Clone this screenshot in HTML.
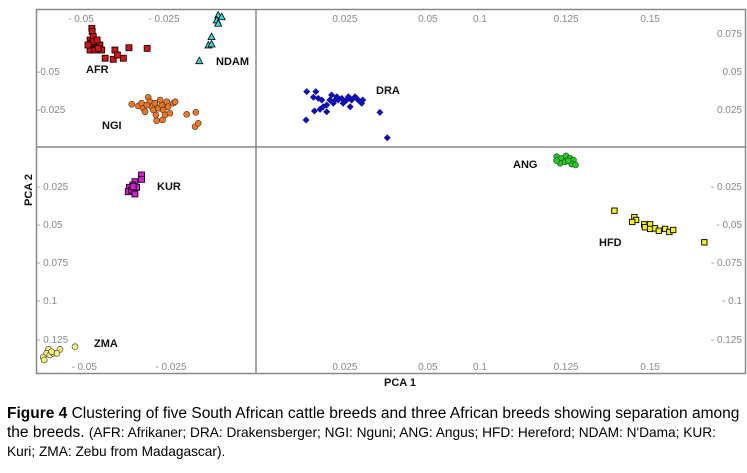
<!DOCTYPE html>
<html><head><meta charset="utf-8">
<style>
body{margin:0;background:#fff;width:747px;height:473px;overflow:hidden;font-family:"Liberation Sans",Arial,sans-serif;}
#cap{position:absolute;left:7px;top:404px;width:745px;font-size:15.5px;line-height:19px;color:#000;white-space:nowrap;}
#cap .s{font-size:13.7px;}
</style></head><body>
<svg id="chart" width="747" height="400" style="position:absolute;left:0;top:0"></svg>
<div id="cap"><b>Figure 4</b> Clustering of five South African cattle breeds and three African breeds showing separation among<br>the breeds. <span class="s">(AFR: Afrikaner; DRA: Drakensberger; NGI: Nguni; ANG: Angus; HFD: Hereford; NDAM: N'Dama; KUR:</span><br><span class="s" style="line-height:16px">Kuri; ZMA: Zebu from Madagascar).</span></div>
<script>
const afrX=[-0.0469,-0.0468,-0.0474,-0.0465,-0.0469,-0.0455,-0.0446,-0.0441,-0.0474,-0.0460,-0.0431,-0.0403,-0.0408,-0.0396,-0.0379,-0.0363,-0.0311,-0.0451,-0.0465,-0.0480,-0.0454];
const afrY=[0.0781,0.0759,0.0704,0.0726,0.0682,0.0671,0.0671,0.0638,0.0638,0.0638,0.0584,0.0638,0.0577,0.0605,0.0584,0.0653,0.0649,0.0649,0.0694,0.0671,0.0704];
const ndamX=[-0.0108,-0.0112,-0.0098,-0.0108,-0.0127,-0.0136,-0.0127,-0.0162];
const ndamY=[0.0868,0.0836,0.0857,0.0814,0.0726,0.0671,0.0678,0.0568];
const ngiX=[-0.0355,-0.0336,-0.0327,-0.0322,-0.0308,-0.0303,-0.0298,-0.0293,-0.0289,-0.0279,-0.0269,-0.0265,-0.0260,-0.0255,-0.0251,-0.0246,-0.0236,-0.0231,-0.0286,-0.0284,-0.0267,-0.0198,-0.0172,-0.0174,-0.0165,-0.0317,-0.0312,-0.0274];
const ngiY=[0.0281,0.0270,0.0288,0.0255,0.0327,0.0298,0.0265,0.0243,0.0288,0.0255,0.0276,0.0243,0.0211,0.0298,0.0265,0.0222,0.0288,0.0298,0.0211,0.0173,0.0178,0.0215,0.0228,0.0134,0.0156,0.0232,0.0276,0.0309];
const draX=[0.0145,0.0171,0.0164,0.0178,0.0188,0.0192,0.0183,0.0167,0.0143,0.0202,0.0211,0.0216,0.0221,0.0231,0.0235,0.0245,0.0249,0.0264,0.0269,0.0273,0.0283,0.0292,0.0302,0.0305,0.0354,0.0375,0.0202,0.0226,0.0259];
const draY=[0.0364,0.0364,0.0327,0.0320,0.0309,0.0265,0.0248,0.0237,0.0178,0.0232,0.0309,0.0342,0.0288,0.0331,0.0309,0.0320,0.0288,0.0331,0.0265,0.0309,0.0331,0.0309,0.0288,0.0309,0.0228,0.0061,0.0276,0.0309,0.0309];
const angX=[0.0859,0.0873,0.0886,0.0897,0.0907,0.0869,0.0883,0.0902,0.0913,0.0859,0.0892];
const angY=[-0.0064,-0.0074,-0.0059,-0.0074,-0.0086,-0.0107,-0.0097,-0.0112,-0.0118,-0.0090,-0.0090];
const hfdX=[0.1024,0.1081,0.1086,0.1075,0.1109,0.1111,0.1126,0.1126,0.1140,0.1151,0.1169,0.1181,0.1192,0.1281];
const hfdY=[-0.0419,-0.0462,-0.0480,-0.0493,-0.0509,-0.0528,-0.0509,-0.0539,-0.0535,-0.0551,-0.0539,-0.0559,-0.0546,-0.0627];
const kurX=[-0.0327,-0.0327,-0.0346,-0.0352,-0.0341,-0.0362,-0.0365,-0.0355,-0.0346,-0.0351];
const kurY=[-0.0184,-0.0213,-0.0228,-0.0250,-0.0265,-0.0265,-0.0294,-0.0283,-0.0309,-0.0261];
const zmaX=[-0.0517,-0.0560,-0.0593,-0.0598,-0.0589,-0.0579,-0.0608,-0.0605,-0.0569,-0.0584];
const zmaY=[-0.1314,-0.1331,-0.1331,-0.1357,-0.1368,-0.1357,-0.1384,-0.1401,-0.1357,-0.1347];
const xTickPos=[-0.05,-0.0263,0.0254,0.0491,0.064,0.0886,0.1126];
const xTopLabels=["- 0.05","- 0.025","0.025","0.05","0.1","0.125","0.15"];
const xBotPos=[-0.0491,-0.0243,0.0254,0.0491,0.064,0.0886,0.1126];
const xBotLabels=["- 0.05","- 0.025","0.025","0.05","0.1","0.125","0.15"];
const yLeftPos=[0.05,0.025,-0.0257,-0.0507,-0.0757,-0.1007,-0.1263];
const yLeftLabels=["-0.05","-0.025","- 0.025","- 0.05","- 0.075","- 0.1","- 0.125"];
const yRightPos=[0.075,0.05,0.025,-0.0257,-0.0507,-0.0757,-0.1007,-0.1263];
const yRightLabels=["0.075","0.05","0.025","- 0.025","- 0.05","- 0.075","- 0.1","- 0.125"];

const NS="http://www.w3.org/2000/svg";
const svg=document.getElementById('chart');
const X=v=>256+v*3500, Y=v=>147-v*1520;
function mk(t,a,p){const e=document.createElementNS(NS,t);for(const k in a)e.setAttribute(k,a[k]);(p||svg).appendChild(e);return e;}
const GRAY="#888";
let f=mk('rect',{x:36.5,y:9.5,width:709,height:364,fill:'none',stroke:GRAY,'stroke-width':1.5});

let vl=mk('line',{x1:256,y1:9,x2:256,y2:373,stroke:GRAY,'stroke-width':1.5});

let hl=mk('line',{x1:36,y1:Y(0),x2:746,y2:Y(0),stroke:GRAY,'stroke-width':1.5});

function txt(x,y,s,o){const e=mk('text',Object.assign({x:x,y:y,'font-size':10,fill:'#888','font-family':'Liberation Sans, sans-serif'},o||{}));e.textContent=s;return e;}
xTickPos.forEach((v,i)=>{const e=txt(X(v),22,xTopLabels[i],{'text-anchor':'middle'});
});
xBotPos.forEach((v,i)=>{const e=txt(X(v),370,xBotLabels[i],{'text-anchor':'middle'});
});
yLeftPos.forEach((v,i)=>{const e=txt(37,Y(v)+4,yLeftLabels[i]);
});
yRightPos.forEach((v,i)=>{const e=txt(742,Y(v)+4,yRightLabels[i],{'text-anchor':'end'});
});
function series(xs,ys,shape,fill,name){
 const g=mk('g',{});
 
 xs.forEach((xv,i)=>{const cx=X(xv),cy=Y(ys[i]);let e;
  if(shape==='sq')e=mk('rect',{x:cx-3,y:cy-3,width:6,height:6,fill:fill,stroke:'#000','stroke-width':0.8},g);
  else if(shape==='sqs')e=mk('rect',{x:cx-2.7,y:cy-2.7,width:5.4,height:5.4,fill:fill,stroke:'#000','stroke-width':0.9},g);
  else if(shape==='c')e=mk('circle',{cx:cx,cy:cy,r:3,fill:fill,stroke:'#333','stroke-width':0.6},g);
  else if(shape==='d')e=mk('polygon',{points:`${cx},${cy-3.5} ${cx+3.5},${cy} ${cx},${cy+3.5} ${cx-3.5},${cy}`,fill:fill},g);
  else e=mk('polygon',{points:`${cx},${cy-3.5} ${cx+3.5},${cy+3} ${cx-3.5},${cy+3}`,fill:fill,stroke:'#000','stroke-width':0.8},g);
  });
}
series(afrX,afrY,'sq','#d21414','afr');
series(ndamX,ndamY,'t','#3fd6d6','ndam');
series(ngiX,ngiY,'c','#ee7722','ngi');
series(draX,draY,'d','#1010b0','dra');
series(angX,angY,'c','#22cc22','ang');
series(hfdX,hfdY,'sqs','#f5f020','hfd');
series(kurX,kurY,'sq','#d020d0','kur');
series(zmaX,zmaY,'c','#f8f080','zma');
const grp=[["AFR",86,73],["NDAM",216,65],["NGI",102,129],["DRA",376,94],["ANG",513,168],["KUR",157,190],["HFD",599,246],["ZMA",94,347]];
grp.forEach(g=>{const e=txt(g[1],g[2],g[0],{fill:'#111','font-weight':'bold','font-size':11});
});
let xt=txt(400,386,"PCA 1",{fill:'#111','font-weight':'bold','font-size':11,'text-anchor':'middle'});

let yt=txt(32,190,"PCA 2",{fill:'#111','font-weight':'bold','font-size':11,'text-anchor':'middle',transform:'rotate(-90 32 190)'});

</script>
</body></html>
